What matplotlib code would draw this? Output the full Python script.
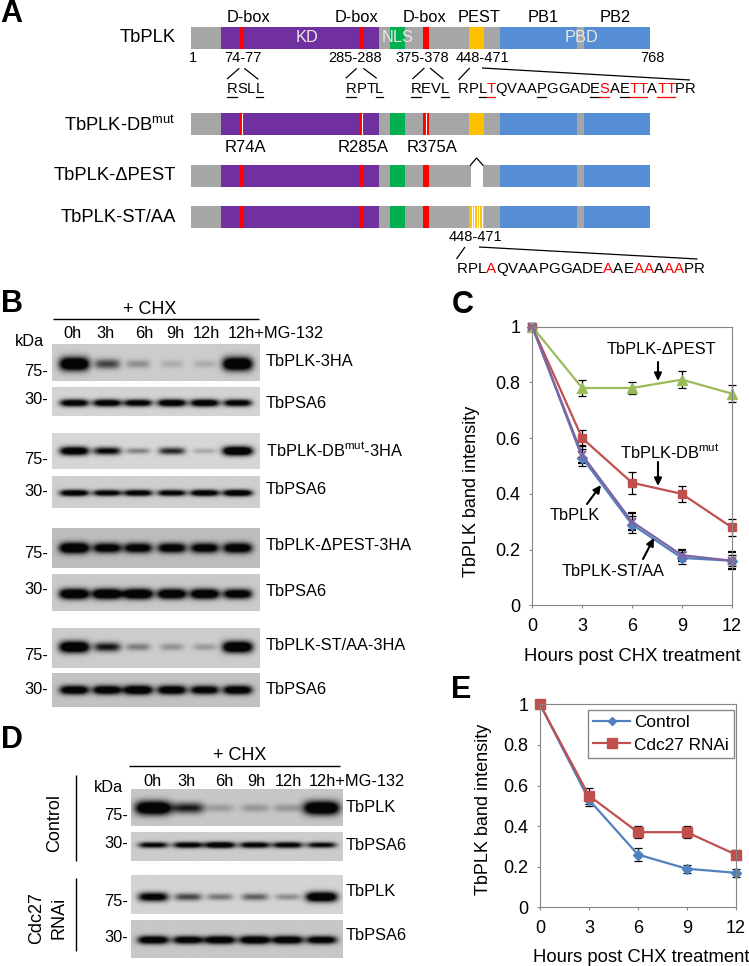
"""
TbPLK domain map, CHX chase blots and band intensity curves
"""
import numpy as np
import matplotlib
matplotlib.use('Agg')
import matplotlib.pyplot as plt
from matplotlib.font_manager import findfont, FontProperties, get_font
from matplotlib.ft2font import LoadFlags
from matplotlib.lines import Line2D

plt.rcParams['font.family'] = ['Liberation Sans', 'DejaVu Sans']
plt.rcParams['mathtext.fontset'] = 'custom'
plt.rcParams['mathtext.rm'] = 'Liberation Sans'
plt.rcParams['mathtext.default'] = 'rm'

# panel C
hours = [0, 3, 6, 9, 12]
plk = [1, 0.53, 0.29, 0.17, 0.16]
plk_err = [0, 0.03, 0.03, 0.02, 0.02]
dbmut = [1, 0.60, 0.44, 0.40, 0.28]
dbmut_err = [0, 0.03, 0.04, 0.03, 0.03]
dpest = [1, 0.78, 0.78, 0.81, 0.76]
dpest_err = [0, 0.03, 0.02, 0.03, 0.03]
staa = [1, 0.54, 0.30, 0.18, 0.16]
staa_err = [0, 0.03, 0.03, 0.02, 0.03]

# panel E
control = [1, 0.53, 0.26, 0.19, 0.17]
control_err = [0, 0.03, 0.03, 0.02, 0.02]
cdc27 = [1, 0.55, 0.37, 0.37, 0.26]
cdc27_err = [0, 0.04, 0.03, 0.03, 0.02]

y_ticks = [0, 0.2, 0.4, 0.6, 0.8, 1]
y_ticklabels = ['0', '0.2', '0.4', '0.6', '0.8', '1']

# panel A, in residues as drawn
protein = (1, 768)
kd = (51, 315)
dboxes = [(83, 90), (282, 290), (389, 398)]
nls = (334, 359)
pest = (466, 491)
pb1 = (517, 646)
pb2 = (658, 768)

# band strength per lane, 0 = nothing, 1 = saturated
lanes = ['0h', '3h', '6h', '9h', '12h', '12h+MG-132']
b_plk = [1.0, 0.5, 0.26, 0.15, 0.15, 1.0]
b_psa1 = [0.85, 0.85, 0.82, 0.88, 0.88, 0.82]
b_db = [0.9, 0.72, 0.32, 0.6, 0.2, 1.0]
b_psa2 = [0.88, 0.82, 0.85, 0.82, 0.88, 0.92]
b_pest = [1.0, 0.85, 0.85, 0.85, 0.85, 0.9]
b_psa3 = [1.0, 1.0, 1.0, 0.95, 0.95, 0.88]
b_st = [1.0, 0.65, 0.32, 0.25, 0.22, 1.0]
b_psa4 = [0.9, 0.9, 0.95, 0.9, 0.85, 0.9]
d_plk1 = [1.0, 0.62, 0.2, 0.22, 0.22, 1.0]
d_psa1 = [0.75, 0.8, 0.88, 0.8, 0.8, 0.72]
d_plk2 = [0.8, 0.5, 0.35, 0.42, 0.28, 0.95]
d_psa2 = [0.9, 0.85, 0.9, 0.92, 0.9, 0.85]

GRAY = '#A6A6A6'
PURPLE = '#7030A0'
GREEN = '#00B050'
RED = '#FF0000'
ORANGE = '#FFC000'
BLUE = '#558ED5'

fig = plt.figure(figsize=(7.49, 9.66), dpi=100, facecolor='white')

# overlay in image pixels for labels and blots
ov = fig.add_axes([0, 0, 1, 1], zorder=5)
ov.patch.set_alpha(0)
ov.axis('off')

# domain axes: x in residues, y in image pixels
dm = fig.add_axes([191 / 749, 0, (650.3 - 191) / 749, 1], zorder=2)
dm.axis('off')
dm.set_xlim(*protein)
dm.set_ylim(966, 0)


def span(y, a, color):
    dm.broken_barh([(a[0], a[1] - a[0])], (y, 22), facecolors=color, linewidth=0)


def domain_bar(y, mut_db=False, del_pest=False, st_aa=False):
    span(y, protein, GRAY)
    span(y, kd, PURPLE)
    span(y, nls, GREEN)
    for box in dboxes:
        span(y, box, RED)
        if mut_db:
            m = (box[0] + box[1]) / 2
            dm.plot([m, m], [y, y + 22], color='white', lw=0.8, solid_capstyle='butt')
    span(y, pb1, BLUE)
    span(y, pb2, BLUE)
    if del_pest:
        span(y, (pest[0] + 2, pest[1] - 3), 'white')
    else:
        span(y, pest, ORANGE)
    if st_aa:
        for r in np.linspace(pest[0] + 4, pest[1] - 4, 5):
            dm.plot([r, r], [y, y + 22], color='white', lw=0.8, solid_capstyle='butt')


domain_bar(27)
domain_bar(113, mut_db=True)
domain_bar(165, del_pest=True)
domain_bar(206, st_aa=True)


def txt(x, y, s, size=11.8, ha='left', va='center', **kw):
    return ov.text(x, y, s, fontsize=size, ha=ha, va=va, **kw)


def seq(x, y, s, size=10.6, red=(), under=()):
    # letter by letter so single residues can be red or underlined
    font = get_font(findfont(FontProperties(family='Liberation Sans')))
    font.set_size(size, 100)
    for i, c in enumerate(s):
        adv = font.load_char(ord(c), flags=LoadFlags.NO_HINTING).linearHoriAdvance / 65536
        col = RED if i in red else 'black'
        ov.text(x, y, c, fontsize=size, ha='left', va='center', color=col)
        if i in under:
            ov.plot([x + 0.3, x + adv - 0.3], [y + 7.5, y + 7.5], color=col, lw=0.9)
        x += adv


def seg(pts, lw=0.9, color='black'):
    ov.plot([p[0] for p in pts], [p[1] for p in pts], color=color, lw=lw,
            solid_capstyle='butt', solid_joinstyle='miter')


def arrow(a, b):
    ov.annotate('', xy=b, xytext=a,
                arrowprops=dict(arrowstyle='-|>,head_width=0.22,head_length=0.45', color='black',
                                lw=1.5, shrinkA=0, shrinkB=0))


# panel letters
for s, x, y in [('A', 0, 14), ('B', 1, 304), ('C', 452, 305), ('D', 1, 740), ('E', 451, 690)]:
    txt(x, y, s, size=22, fontweight='bold')

# panel A text
for s, x in [('D-box', 248), ('D-box', 356.6), ('D-box', 424.4), ('PEST', 479), ('PB1', 543), ('PB2', 615.6)]:
    txt(x, 17, s, ha='center')
for s, x in [('KD', 307), ('NLS', 398), ('PBD', 581)]:
    txt(x, 38, s, ha='center', color='#E8E8E8')
for s, y in [('TbPLK', 38), ('TbPLK-DB$^{mut}$', 125), ('TbPLK-ΔPEST', 176), ('TbPLK-ST/AA', 217)]:
    txt(175.8, y, s, size=13.2, ha='right')
for s, x in [('1', 193), ('74-77', 243), ('285-288', 354.6), ('375-378', 422.4), ('448-471', 482), ('768', 652)]:
    txt(x, 58, s, size=10.5, ha='center')
for a, b in [((239.3, 68.3), (227, 79)), ((244.3, 68.3), (258.3, 79.3)), ((356.7, 68.3), (345.7, 78.3)),
             ((363.3, 68.3), (376.7, 78.3)), ((424.4, 68), (412.4, 79)), ((430, 68), (443.3, 79)),
             ((469.7, 68), (458.3, 80)), ((482, 68), (690, 80)),
             ((465, 247), (456.5, 259)), ((479, 247), (697.5, 259))]:
    seg([a, b])
seq(226.7, 89, 'RSLL', under=(0, 3))
seq(345.7, 89, 'RPTL', under=(0, 3))
seq(410.5, 89, 'REVL', under=(0, 3))
seq(458, 89, 'RPLTQVAAPGGADESAETTATTPR',
    red=(3, 14, 17, 18, 20, 21), under=(2, 3, 8, 13, 14, 16, 17, 18, 20, 21))
for s, x in [('R74A', 245), ('R285A', 363), ('R375A', 432.5)]:
    txt(x, 147, s, size=12, ha='center')
seg([(470, 165.7), (476.5, 158), (483.5, 165.7)])
txt(475, 237, '448-471', size=10.5, ha='center')
seq(457, 269, 'RPLAQVAAPGGADEAAEAAAAAPR', size=10.9, red=(3, 14, 17, 18, 20, 21))


def blot(x0, x1, y0, y1, bg, lane_x, levels, band_y, wx=15, wy=4.5):
    # bands only, drawn on a flat membrane grey
    xx, yy = np.meshgrid(np.arange(x0, x1 + 1.0), np.arange(y0, y1 + 1.0))
    d = np.zeros(xx.shape)
    for xc, lev in zip(lane_x, levels):
        w = wx * (0.72 + 0.28 * lev)
        h = wy * (0.55 + 0.6 * lev)
        d += lev ** 1.2 * np.exp(-((xx - xc) / w) ** 4) * np.exp(-((yy - band_y) / h) ** 2)
    img = bg - (bg - 0.02) * np.clip(d * 1.6, 0, 1)
    ov.imshow(img, cmap='gray', vmin=0, vmax=1, extent=(x0, x1, y1, y0),
              aspect='auto', interpolation='bilinear', zorder=1)


lane_b = [74, 107, 138, 172, 205, 238]
lane_d = [153, 188, 220, 255, 288, 322]

blot(52, 260, 344, 381, 0.80, lane_b, b_plk, 364, wy=6)
blot(52, 260, 387, 416, 0.83, lane_b, b_psa1, 403, wy=3.5)
blot(52, 260, 433, 469, 0.84, lane_b, b_db, 451, wy=4)
blot(52, 260, 476, 508, 0.81, lane_b, b_psa2, 493, wy=3)
blot(52, 260, 528, 568, 0.74, lane_b, b_pest, 548, wy=4.8)
blot(52, 260, 574, 611, 0.79, lane_b, b_psa3, 594, wy=4.6)
blot(52, 260, 628, 668, 0.80, lane_b, b_st, 647, wy=5)
blot(52, 260, 673, 707, 0.76, lane_b, b_psa4, 690, wy=4.2)
blot(131, 343, 789, 826, 0.78, lane_d, d_plk1, 808, wx=18, wy=6)
blot(131, 343, 832, 861, 0.80, lane_d, d_psa1, 845, wx=16, wy=3)
blot(131, 343, 875, 914, 0.83, lane_d, d_plk2, 897, wx=16, wy=4.5)
blot(131, 343, 920, 958, 0.78, lane_d, d_psa2, 940, wx=16, wy=3.8)
ov.set_xlim(0, 749)
ov.set_ylim(966, 0)

# panel B text
txt(150, 310, '+ CHX', size=13, ha='center')
seg([(53, 319), (259, 319)], lw=1.0)
for s, x in zip(lanes[:5], [72, 105, 144, 175, 206]):
    txt(x, 334, s, ha='center')
txt(228, 334, lanes[5])
txt(29, 341, 'kDa', ha='center')
for s, y in [('75-', 372), ('30-', 399), ('75-', 460), ('30-', 491),
             ('75-', 554), ('30-', 590), ('75-', 655), ('30-', 690)]:
    txt(48, y, s, ha='right')
for s, y in [('TbPLK-3HA', 362), ('TbPSA6', 403), ('TbPLK-DB$^{mut}$-3HA', 450), ('TbPSA6', 489),
             ('TbPLK-ΔPEST-3HA', 546), ('TbPSA6', 592), ('TbPLK-ST/AA-3HA', 646), ('TbPSA6', 689)]:
    txt(266, y, s)

# panel D text
txt(240, 756, '+ CHX', size=13, ha='center')
seg([(129, 766), (340, 766)], lw=1.0)
for s, x in zip(lanes[:5], [153, 186, 224, 256, 288]):
    txt(x, 781, s, ha='center')
txt(309, 781, lanes[5])
txt(108, 787, 'kDa', ha='center')
for s, y in [('75-', 815), ('30-', 844), ('75-', 902), ('30-', 937)]:
    txt(128, y, s, ha='right')
for s, y in [('TbPLK', 807), ('TbPSA6', 845), ('TbPLK', 891), ('TbPSA6', 935)]:
    txt(346, y, s)
seg([(76, 775), (76, 861)], lw=1.0)
seg([(76, 878), (76, 951)], lw=1.0)
txt(55, 823, 'Control', size=13, ha='center', rotation=90)
txt(37, 918, 'Cdc27', size=13, ha='center', rotation=90)
txt(59, 918, 'RNAi', size=13, ha='center', rotation=90)


def curve_axes(x0, x1, y0, y1):
    ax = fig.add_axes([x0 / 749, 1 - y1 / 966, (x1 - x0) / 749, (y1 - y0) / 966], zorder=3)
    ax.set_xlim(0, 12)
    ax.set_ylim(0, 1)
    ax.set_xticks(hours)
    ax.set_yticks(y_ticks)
    ax.set_yticklabels(y_ticklabels)
    ax.tick_params(labelsize=13, length=2.5, width=0.8, color='#868686', pad=6)
    ax.tick_params(axis='x', pad=7)
    for side in ax.spines.values():
        side.set_color('#868686')
        side.set_linewidth(0.8)
    ax.patch.set_alpha(0)
    return ax


def series(ax, y, err, color, marker, ms=6, **kw):
    ax.errorbar(hours, y, yerr=err, color=color, ecolor='black', elinewidth=0.9, capsize=3.2,
                capthick=0.9, lw=1.6, marker=marker, ms=ms, mfc=color, mec=color,
                clip_on=False, **kw)


# panel C
ax_c = curve_axes(532.3, 731.7, 326.7, 605.3)
series(ax_c, plk, plk_err, '#4F81BD', 'D', ms=5)
series(ax_c, dbmut, dbmut_err, '#C0504D', 's', ms=6)
series(ax_c, dpest, dpest_err, '#9BBB59', '^', ms=7.5)
series(ax_c, staa, staa_err, '#8064A2', 'x', ms=6, mew=1.6)
ax_c.set_xlabel('Hours post CHX treatment', fontsize=13.3)
ax_c.xaxis.set_label_coords(0.5, -0.153)
ax_c.set_ylabel('TbPLK band intensity', fontsize=13)
ax_c.yaxis.set_label_coords(-0.262, 0.41)

txt(661.7, 350, 'TbPLK-ΔPEST', size=11.8, ha='center')
txt(670, 452, 'TbPLK-DB$^{mut}$', size=11.8, ha='center')
txt(575, 516, 'TbPLK', size=11.8, ha='center')
txt(613, 571, 'TbPLK-ST/AA', size=11.8, ha='center')
arrow((658, 362), (658, 381))
arrow((658, 462), (658, 486))
arrow((587, 504), (601, 485))
arrow((643, 559), (654, 538))

# panel E
ax_e = curve_axes(540, 735.7, 704.3, 907.3)
series(ax_e, control, control_err, '#4F81BD', 'D', ms=5.5)
series(ax_e, cdc27, cdc27_err, '#C0504D', 's', ms=7)
ax_e.set_xlabel('Hours post CHX treatment', fontsize=13.3)
ax_e.xaxis.set_label_coords(0.515, -0.205)
ax_e.set_ylabel('TbPLK band intensity', fontsize=13)
ax_e.yaxis.set_label_coords(-0.245, 0.48)
handles = [Line2D([], [], color='#4F81BD', lw=1.6, marker='D', ms=4.5),
           Line2D([], [], color='#C0504D', lw=1.6, marker='s', ms=6.5)]
leg = ax_e.legend(handles, ['Control', 'Cdc27 RNAi'], loc='upper left',
                  bbox_to_anchor=((588 - 540) / 195.7, 1 - (710 - 704.3) / 203),
                  fontsize=12.4, fancybox=False, framealpha=1, edgecolor='#868686', borderaxespad=0,
                  handlelength=2.15, handletextpad=0.25, labelspacing=0.42, borderpad=0.3)
leg.get_frame().set_linewidth(1.0)

fig.savefig('out.png', dpi=100)
